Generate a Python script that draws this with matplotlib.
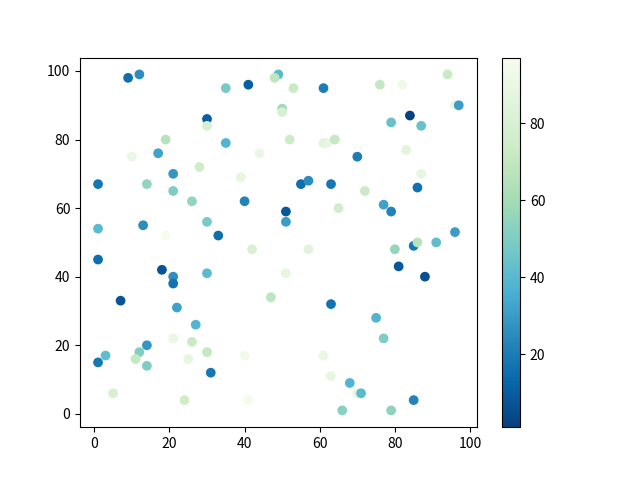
import matplotlib
matplotlib.use("Agg")
import matplotlib.pyplot as plt

plt.rcParams["font.family"] = ["Noto Sans CJK SC", "DejaVu Sans"]

# point positions (x, y) and colour values
x = [9, 12, 35, 41, 49, 48, 50, 50, 30, 30, 19, 10, 17, 35, 44, 21, 28, 39, 1, 14,
     53, 61, 76, 82, 94, 96, 97, 84, 79, 87, 52, 61, 62, 64, 70, 83, 87, 55, 57, 63,
     86, 21, 26, 40, 51, 51, 1, 13, 30, 19, 33, 42, 1, 18, 21, 21, 30, 51, 7, 47,
     22, 72, 65, 77, 79, 96, 57, 80, 85, 86, 91, 81, 88, 63, 27, 21, 26, 30, 25, 40,
     14, 12, 11, 14, 3, 1, 31, 5, 24, 41, 75, 77, 61, 63, 68, 70, 71, 85, 66, 79]
y = [98, 99, 95, 96, 99, 98, 89, 88, 86, 84, 80, 75, 76, 79, 76, 70, 72, 69, 67, 67,
     95, 95, 96, 96, 99, 90, 90, 87, 85, 84, 80, 79, 79, 80, 75, 77, 70, 67, 68, 67,
     66, 65, 62, 62, 59, 56, 54, 55, 56, 52, 52, 48, 45, 42, 40, 38, 41, 41, 33, 34,
     31, 65, 60, 61, 59, 53, 48, 48, 49, 50, 50, 43, 40, 32, 26, 22, 21, 18, 16, 17,
     20, 18, 16, 14, 17, 15, 12, 6, 4, 4, 28, 22, 17, 11, 9, 6, 6, 4, 1, 1]
c = [15, 25, 48, 10, 40, 68, 58, 80, 10, 80, 66, 90, 32, 38, 90, 28, 74, 88, 18, 55,
     72, 20, 70, 93, 72, 88, 30, 1, 44, 44, 74, 86, 88, 70, 20, 86, 88, 15, 25, 18,
     16, 50, 55, 22, 8, 30, 40, 25, 48, 97, 15, 80, 15, 7, 26, 17, 40, 88, 7, 68,
     32, 72, 76, 32, 22, 30, 86, 56, 18, 66, 42, 8, 6, 17, 38, 90, 72, 70, 88, 94,
     28, 50, 70, 50, 42, 18, 18, 80, 74, 95, 38, 50, 90, 88, 38, 88, 40, 22, 52, 54]

fig = plt.figure(figsize=(6.4, 4.8), dpi=100)
plt.scatter(x, y, c=c, cmap="GnBu_r")
plt.colorbar()
fig.savefig("out.png", dpi=100)
